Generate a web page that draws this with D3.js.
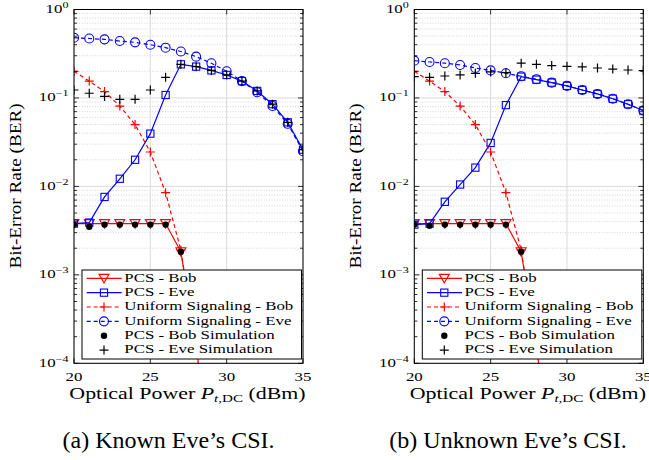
<!DOCTYPE html>
<html><head><meta charset="utf-8">
<script src="https://cdn.jsdelivr.net/npm/d3@7"></script>
<style>
html,body{margin:0;padding:0;background:#fff;}
svg{display:block;}
text{font-family:"Liberation Serif","Times New Roman",serif;fill:#000;}
</style></head>
<body>
<svg id="chart" width="649" height="460"></svg>
<script>
// ---------------- data ----------------
const xValues   = [20,21,22,23,24,25,26,27,28,29,30,31,32,33,34,35];
const xBob      = [20,21,22,23,24,25,26,27,28,29];
const xBobSim   = [20,21,22,23,24,25,26,27];
const xTicks    = [20,25,30,35];
const yTickExps = [0,-1,-2,-3,-4];

// (a) Known Eve's CSI
const aPcsBob     = [0.0038,0.0038,0.0038,0.0038,0.0038,0.0038,0.0038,0.00183,0.000146,0.000011];
const aPcsEve     = [0.0038,0.0039,0.0076,0.0122,0.020,0.0395,0.108,0.24,0.226,0.205,0.182,0.155,0.12,0.085,0.053,0.026];
const aUniBob     = [0.20,0.155,0.118,0.081,0.050,0.0245,0.0085,0.0019,0.000146,0.000011];
const aUniEve     = [0.48,0.47,0.46,0.44,0.425,0.40,0.37,0.335,0.293,0.247,0.20,0.155,0.116,0.081,0.051,0.025];
const aBobSim     = [0.0037,0.0035,0.0037,0.0037,0.0037,0.0037,0.0037,0.00183];
const aEveSim     = [0.123,0.113,0.104,0.0965,0.0965,0.123,0.171,0.24,0.226,0.205,0.182,0.155,0.12,0.085,0.053,0.026];

// (b) Unknown Eve's CSI
const bPcsBob     = [0.0038,0.0038,0.0038,0.0038,0.0038,0.0038,0.0038,0.00183,0.000146,0.000011];
const bPcsEve     = [0.0037,0.0038,0.0067,0.0105,0.0163,0.031,0.083,0.174,0.161,0.149,0.137,0.123,0.111,0.098,0.085,0.072];
const bUniBob     = [0.20,0.155,0.118,0.081,0.050,0.0245,0.0085,0.0019,0.000146,0.000011];
const bUniEve     = [0.264,0.255,0.247,0.236,0.218,0.205,0.19,0.176,0.163,0.149,0.137,0.123,0.111,0.098,0.085,0.072];
const bBobSim     = [0.0037,0.0036,0.0037,0.0037,0.0037,0.0037,0.0037,0.00183];
const bEveSim     = [0.174,0.171,0.177,0.182,0.19,0.197,0.193,0.247,0.24,0.232,0.228,0.224,0.218,0.212,0.207,0.204];

const legendLabels = ["PCS - Bob","PCS - Eve","Uniform Signaling - Bob","Uniform Signaling - Eve","PCS - Bob Simulation","PCS - Eve Simulation"];
const captions = ["(a) Known Eve\u2019s CSI.","(b) Unknown Eve\u2019s CSI."];

// ---------------- drawing ----------------
const svg = d3.select("#chart");
const RED = "#ff0000", BLUE = "#0000ff";
const SX = 1.37; // horizontal text stretch

function stext(parent, x, y, anchor, size, sx) {
  return parent.append("g").attr("transform", `translate(${x},${y}) scale(${sx},1)`)
    .append("text").attr("text-anchor", anchor).style("font-size", size + "px");
}

function marker(g, type, x, y, color) {
  if (type === "tri") {
    const w = 5, h = 8.5;
    g.append("path").attr("d", `M${x - w},${y - h/2 + 0.3}L${x + w},${y - h/2 + 0.3}L${x},${y + h/2 + 0.3}Z`)
      .attr("fill", "none").attr("stroke", color).attr("stroke-width", 1.1);
  } else if (type === "sq") {
    g.append("rect").attr("x", x - 3.6).attr("y", y - 3.6).attr("width", 7.2).attr("height", 7.2)
      .attr("fill", "none").attr("stroke", color).attr("stroke-width", 1.1);
  } else if (type === "circ") {
    g.append("circle").attr("cx", x).attr("cy", y).attr("r", 4.5)
      .attr("fill", "none").attr("stroke", color).attr("stroke-width", 1.1);
  } else if (type === "plus") {
    g.append("path").attr("d", `M${x - 4.5},${y}H${x + 4.5}M${x},${y - 4.5}V${y + 4.5}`)
      .attr("stroke", color).attr("stroke-width", 1.2);
  } else if (type === "dot") {
    g.append("circle").attr("cx", x).attr("cy", y).attr("r", 3.2).attr("fill", color);
  }
}

function panel(id, px0, px1, series, caption) {
  const py0 = 9.5, py1 = 363.3;
  const x = d3.scaleLinear().domain([20, 35]).range([px0, px1]);
  const y = d3.scaleLog().domain([1e-4, 1]).range([py1, py0]);
  const g = svg.append("g");

  // clip
  g.append("clipPath").attr("id", "clip" + id).append("rect")
    .attr("x", px0).attr("y", py0).attr("width", px1 - px0).attr("height", py1 - py0);

  // grid: minor dotted
  const minor = [];
  for (let e = -4; e < 0; e++) for (let m = 2; m <= 9; m++) minor.push(m * Math.pow(10, e));
  g.selectAll(".mg").data(minor).enter().append("line")
    .attr("x1", px0).attr("x2", px1).attr("y1", d => y(d)).attr("y2", d => y(d))
    .attr("stroke", "#c4c4c4").attr("stroke-width", 0.7).attr("stroke-dasharray", "1,1.6");
  // grid: major
  const majorY = yTickExps.map(e => Math.pow(10, e));
  g.selectAll(".gy").data(majorY).enter().append("line")
    .attr("x1", px0).attr("x2", px1).attr("y1", d => y(d)).attr("y2", d => y(d))
    .attr("stroke", "#dadada").attr("stroke-width", 1);
  g.selectAll(".gx").data(xTicks).enter().append("line")
    .attr("x1", d => x(d)).attr("x2", d => x(d)).attr("y1", py0).attr("y2", py1)
    .attr("stroke", "#dadada").attr("stroke-width", 1);

  // series
  const pg = g.append("g").attr("clip-path", `url(#clip${id})`);
  const line = d3.line().x(d => x(d[0])).y(d => y(d[1]));
  series.forEach(s => {
    const pts = s.xs.map((xv, i) => [xv, s.ys[i]]);
    if (s.line) {
      pg.append("path").datum(pts).attr("d", line).attr("fill", "none")
        .attr("stroke", s.color).attr("stroke-width", 1.2)
        .attr("stroke-dasharray", s.dash ? "4,3" : null);
    }
    pts.forEach(p => marker(pg, s.mark, x(p[0]), y(p[1]), s.color));
  });

  // ticks
  const ax = g.append("g").attr("stroke", "#000").attr("stroke-width", 0.8);
  minor.forEach(d => {
    ax.append("line").attr("x1", px0).attr("x2", px0 + 3).attr("y1", y(d)).attr("y2", y(d));
    ax.append("line").attr("x1", px1).attr("x2", px1 - 3).attr("y1", y(d)).attr("y2", y(d));
  });
  majorY.forEach(d => {
    ax.append("line").attr("x1", px0).attr("x2", px0 + 5).attr("y1", y(d)).attr("y2", y(d));
    ax.append("line").attr("x1", px1).attr("x2", px1 - 5).attr("y1", y(d)).attr("y2", y(d));
  });
  xTicks.forEach(d => {
    ax.append("line").attr("x1", x(d)).attr("x2", x(d)).attr("y1", py1).attr("y2", py1 - 5);
    ax.append("line").attr("x1", x(d)).attr("x2", x(d)).attr("y1", py0).attr("y2", py0 + 5);
  });

  // legend
  const lw = 219.5, lh = 89;
  const lx = px1 - 1.5 - lw, ly = py1 - 4.3 - lh;
  const lg = g.append("g");
  lg.append("rect").attr("x", lx).attr("y", ly).attr("width", lw).attr("height", lh)
    .attr("fill", "#fff").attr("stroke", "#000").attr("stroke-width", 1);
  series.forEach((s, i) => {
    const ey = ly + 8.3 + i * 14.35;
    if (s.line) {
      lg.append("line").attr("x1", lx + 4.7).attr("x2", lx + 39.7).attr("y1", ey).attr("y2", ey)
        .attr("stroke", s.color).attr("stroke-width", 1.2).attr("stroke-dasharray", s.dash ? "4,3" : null);
    }
    marker(lg, s.mark, lx + 22, ey, s.color);
    stext(lg, lx + 42.3, ey + 3.4, "start", 12.3, SX).text(legendLabels[i]);
  });

  // frame
  g.append("rect").attr("x", px0).attr("y", py0).attr("width", px1 - px0).attr("height", py1 - py0)
    .attr("fill", "none").attr("stroke", "#000").attr("stroke-width", 1);

  // y tick labels
  yTickExps.forEach(e => {
    const t = stext(g, px0 - 5.5, y(Math.pow(10, e)) + 3.4, "end", 12.3, SX);
    t.append("tspan").text("10");
    t.append("tspan").attr("dy", -5.2).style("font-size", "8.8px").text(e === 0 ? "0" : "\u2212" + (-e));
  });
  // x tick labels
  xTicks.forEach(d => {
    stext(g, x(d), py1 + 17.4, "middle", 12.3, SX).text(d);
  });
  // x label
  const xl = stext(g, (px0 + px1) / 2 - 1, 399.3, "middle", 16, SX);
  xl.append("tspan").text("Optical Power ");
  xl.append("tspan").style("font-style", "italic").text("P");
  xl.append("tspan").attr("dy", 3).style("font-size", "11px").style("font-style", "italic").text("t");
  xl.append("tspan").style("font-size", "11px").text(",DC");
  xl.append("tspan").attr("dy", -3).text(" (dBm)");
  // y label
  g.append("g").attr("transform", `translate(${px0 - 53.5},${186}) rotate(-90) scale(1.2,1)`)
    .append("text").attr("text-anchor", "middle").style("font-size", "16px").text("Bit-Error Rate (BER)");
  // caption
  g.append("text").attr("x", caption.cx).attr("y", 448.3).attr("text-anchor", "middle")
    .style("font-size", "24px").text(caption.text);
}

function makeSeries(pcsBob, pcsEve, uniBob, uniEve, bobSim, eveSim) {
  return [
    {xs: xBob, ys: pcsBob, color: RED, mark: "tri", line: true, dash: false},
    {xs: xValues, ys: pcsEve, color: BLUE, mark: "sq", line: true, dash: false},
    {xs: xBob, ys: uniBob, color: RED, mark: "plus", line: true, dash: true},
    {xs: xValues, ys: uniEve, color: BLUE, mark: "circ", line: true, dash: true},
    {xs: xBobSim, ys: bobSim, color: "#000", mark: "dot", line: false},
    {xs: xValues, ys: eveSim, color: "#000", mark: "plus", line: false}
  ];
}

panel("a", 74, 303, makeSeries(aPcsBob, aPcsEve, aUniBob, aUniEve, aBobSim, aEveSim), {text: captions[0], cx: 168.5});
panel("b", 414.3, 643.3, makeSeries(bPcsBob, bPcsEve, bUniBob, bUniEve, bBobSim, bEveSim), {text: captions[1], cx: 508});
</script>
</body></html>
